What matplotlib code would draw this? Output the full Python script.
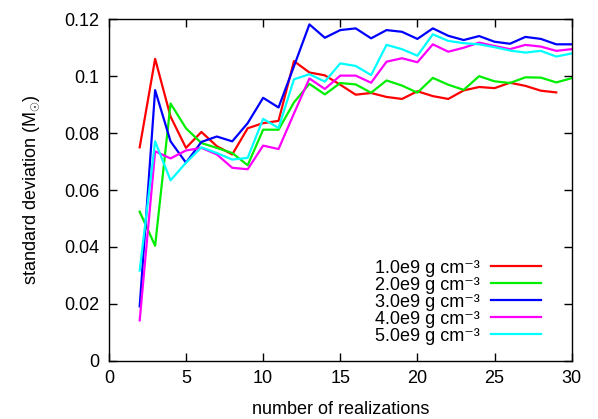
import matplotlib
matplotlib.use("Agg")
import matplotlib.pyplot as plt

plt.rcParams['font.family'] = ['Liberation Sans', 'DejaVu Sans']
plt.rcParams['mathtext.fontset'] = 'custom'
plt.rcParams['mathtext.rm'] = 'Liberation Sans'
plt.rcParams['mathtext.it'] = 'Liberation Sans'
plt.rcParams['font.size'] = 13

# number of realizations
n = list(range(2, 31))
n_red = list(range(2, 30))

labels = ["1.0e9 g cm\u207b\u00b3", "2.0e9 g cm\u207b\u00b3", "3.0e9 g cm\u207b\u00b3",
          "4.0e9 g cm\u207b\u00b3", "5.0e9 g cm\u207b\u00b3"]

std_10 = [0.075, 0.1061, 0.0858, 0.0748, 0.0804, 0.0754, 0.0725, 0.0817, 0.0835, 0.0843,
          0.1053, 0.1013, 0.1003, 0.097, 0.0935, 0.0941, 0.0927, 0.092, 0.0947, 0.093,
          0.092, 0.095, 0.0962, 0.0958, 0.0977, 0.0966, 0.0949, 0.0943]
std_20 = [0.0524, 0.0404, 0.0904, 0.0817, 0.0765, 0.0748, 0.073, 0.0687, 0.0812, 0.0812,
          0.0908, 0.0973, 0.0936, 0.0976, 0.0971, 0.0942, 0.0985, 0.0967, 0.0942, 0.0994,
          0.097, 0.0952, 0.1, 0.0982, 0.0976, 0.0996, 0.0995, 0.0978, 0.0993]
std_30 = [0.0191, 0.0951, 0.0771, 0.0696, 0.0769, 0.0788, 0.0771, 0.0835, 0.0924, 0.089,
          0.1035, 0.1182, 0.1135, 0.1162, 0.1168, 0.1133, 0.1162, 0.1156, 0.1131, 0.1168,
          0.1142, 0.1127, 0.1141, 0.1121, 0.1114, 0.1138, 0.1131, 0.1112, 0.1112]
std_40 = [0.0142, 0.0736, 0.0711, 0.0739, 0.0748, 0.0725, 0.0678, 0.0673, 0.0756, 0.0744,
          0.0869, 0.0992, 0.0955, 0.1002, 0.1002, 0.0977, 0.1051, 0.1063, 0.1049, 0.1112,
          0.1086, 0.11, 0.1118, 0.1106, 0.1095, 0.111, 0.1104, 0.1089, 0.1095]
std_50 = [0.0317, 0.0771, 0.0634, 0.0696, 0.075, 0.073, 0.0707, 0.0713, 0.085, 0.0818,
          0.0989, 0.1007, 0.0981, 0.1045, 0.1036, 0.1004, 0.111, 0.1095, 0.1072, 0.1147,
          0.1124, 0.1116, 0.1112, 0.1102, 0.109, 0.1083, 0.1089, 0.1069, 0.108]

fig = plt.figure(figsize=(5.98, 4.19), dpi=100)
ax = fig.add_axes([0.182, 0.139, 0.774, 0.815])

lw = 1.6
ax.plot(n_red, std_10, color="#ff0000", lw=lw, label=labels[0])
ax.plot(n, std_20, color="#00ee00", lw=lw, label=labels[1])
ax.plot(n, std_30, color="#0000ff", lw=lw, label=labels[2])
ax.plot(n, std_40, color="#ff00ff", lw=lw, label=labels[3])
ax.plot(n, std_50, color="#00ffff", lw=lw, label=labels[4])

ax.set_xlim(0, 30)
ax.set_ylim(0, 0.12)
ax.set_xticks([0, 5, 10, 15, 20, 25, 30])
ax.set_yticks([0, 0.02, 0.04, 0.06, 0.08, 0.1, 0.12])
ax.set_yticklabels(["0", "0.02", "0.04", "0.06", "0.08", "0.1", "0.12"])
ax.tick_params(direction="in", length=6, width=1, top=True, right=True, pad=7)
for s in ax.spines.values():
    s.set_linewidth(1)

ax.set_xlabel("number of realizations", labelpad=10)
ax.set_ylabel(r"standard deviation (M$_{\odot}$)", labelpad=16)

ax.legend(loc="lower right", bbox_to_anchor=(0.962, 0.01), frameon=False,
          markerfirst=False, handlelength=2.8, handletextpad=0.6,
          labelspacing=0.0, borderpad=0.2)

fig.savefig("out.png", dpi=100)
